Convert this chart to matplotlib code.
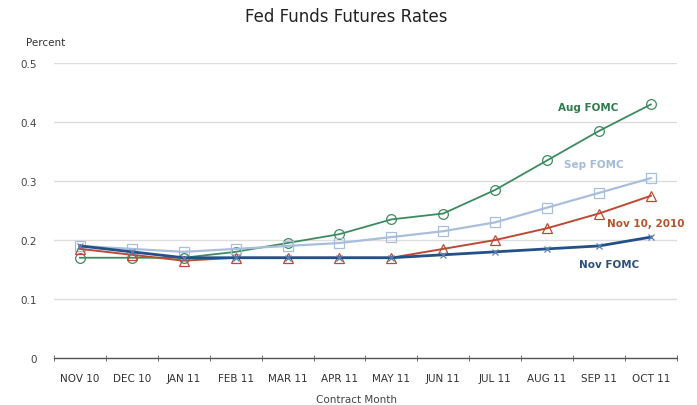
import numpy as np
import matplotlib
matplotlib.use("Agg")
import matplotlib.pyplot as plt

# Fed funds futures implied rates by contract month
months = ["NOV 10", "DEC 10", "JAN 11", "FEB 11", "MAR 11", "APR 11",
          "MAY 11", "JUN 11", "JUL 11", "AUG 11", "SEP 11", "OCT 11"]
aug_fomc = [0.17, 0.17, 0.17, 0.18, 0.195, 0.21, 0.235, 0.245, 0.285, 0.335, 0.385, 0.43]
sep_fomc = [0.19, 0.185, 0.18, 0.185, 0.19, 0.195, 0.205, 0.215, 0.23, 0.255, 0.28, 0.305]
nov_10 = [0.185, 0.175, 0.165, 0.17, 0.17, 0.17, 0.17, 0.185, 0.2, 0.22, 0.245, 0.275]
nov_fomc = [0.19, 0.18, 0.17, 0.17, 0.17, 0.17, 0.17, 0.175, 0.18, 0.185, 0.19, 0.205]

green = "#3d8a60"
light_blue = "#a8bedb"
red = "#bb4a35"
dark_blue = "#24508a"

fig = plt.figure(figsize=(6.97, 4.06), dpi=100)
ax = fig.add_axes([0.0775, 0.1158, 0.8935, 0.7262])

x = np.arange(len(months))
ax.plot(x, aug_fomc, color=green, lw=1.3, marker="o", ms=7, mfc="none", mec=green, mew=0.9)
ax.plot(x, sep_fomc, color=light_blue, lw=1.6, marker="s", ms=7, mfc="none", mec=light_blue, mew=0.9)
ax.plot(x, nov_10, color=red, lw=1.4, marker="^", ms=7, mfc="none", mec=red, mew=0.9)
ax.plot(x, nov_fomc, color=dark_blue, lw=2.0, marker="x", ms=5, mec="#5a7fb0", mew=0.9)

# series labels
lab = dict(fontsize=7.5, fontweight="bold", ha="center", va="center")
ax.text(9.8, 0.425, "Aug FOMC", color="#2f7a4f", **lab)
ax.text(9.9, 0.329, "Sep FOMC", color="#a3bad8", **lab)
ax.text(10.9, 0.229, "Nov 10, 2010", color="#b5532f", **lab)
ax.text(10.2, 0.159, "Nov FOMC", color="#2a5080", **lab)

ax.set_xlim(-0.5, len(months) - 0.5)
ax.set_ylim(0, 0.5)
ax.set_yticks([0, 0.1, 0.2, 0.3, 0.4, 0.5])
ax.set_yticklabels(["0", "0.1", "0.2", "0.3", "0.4", "0.5"])
ax.set_xticks(x)
ax.set_xticklabels(months)
ax.set_xticks(np.arange(-0.5, len(months)), minor=True)
ax.tick_params(axis="x", which="major", length=0, pad=11, labelsize=7.5, colors="#333333")
ax.tick_params(axis="x", which="minor", direction="inout", length=5, color="#555555")
ax.tick_params(axis="y", length=0, pad=12, labelsize=7.5, colors="#444444")

ax.grid(axis="y", color="#dddddd", lw=1.0)
ax.set_axisbelow(True)
for s in ["left", "right", "top"]:
    ax.spines[s].set_visible(False)
ax.spines["bottom"].set_color("#555555")
ax.spines["bottom"].set_linewidth(1.0)

fig.text(0.497, 0.957, "Fed Funds Futures Rates", ha="center", va="center", fontsize=12, color="#222222")
fig.text(0.065, 0.894, "Percent", ha="center", va="center", fontsize=7.5, color="#333333")
fig.text(0.512, 0.015, "Contract Month", ha="center", va="center", fontsize=7.5, color="#444444")

fig.savefig("out.png", dpi=100)
